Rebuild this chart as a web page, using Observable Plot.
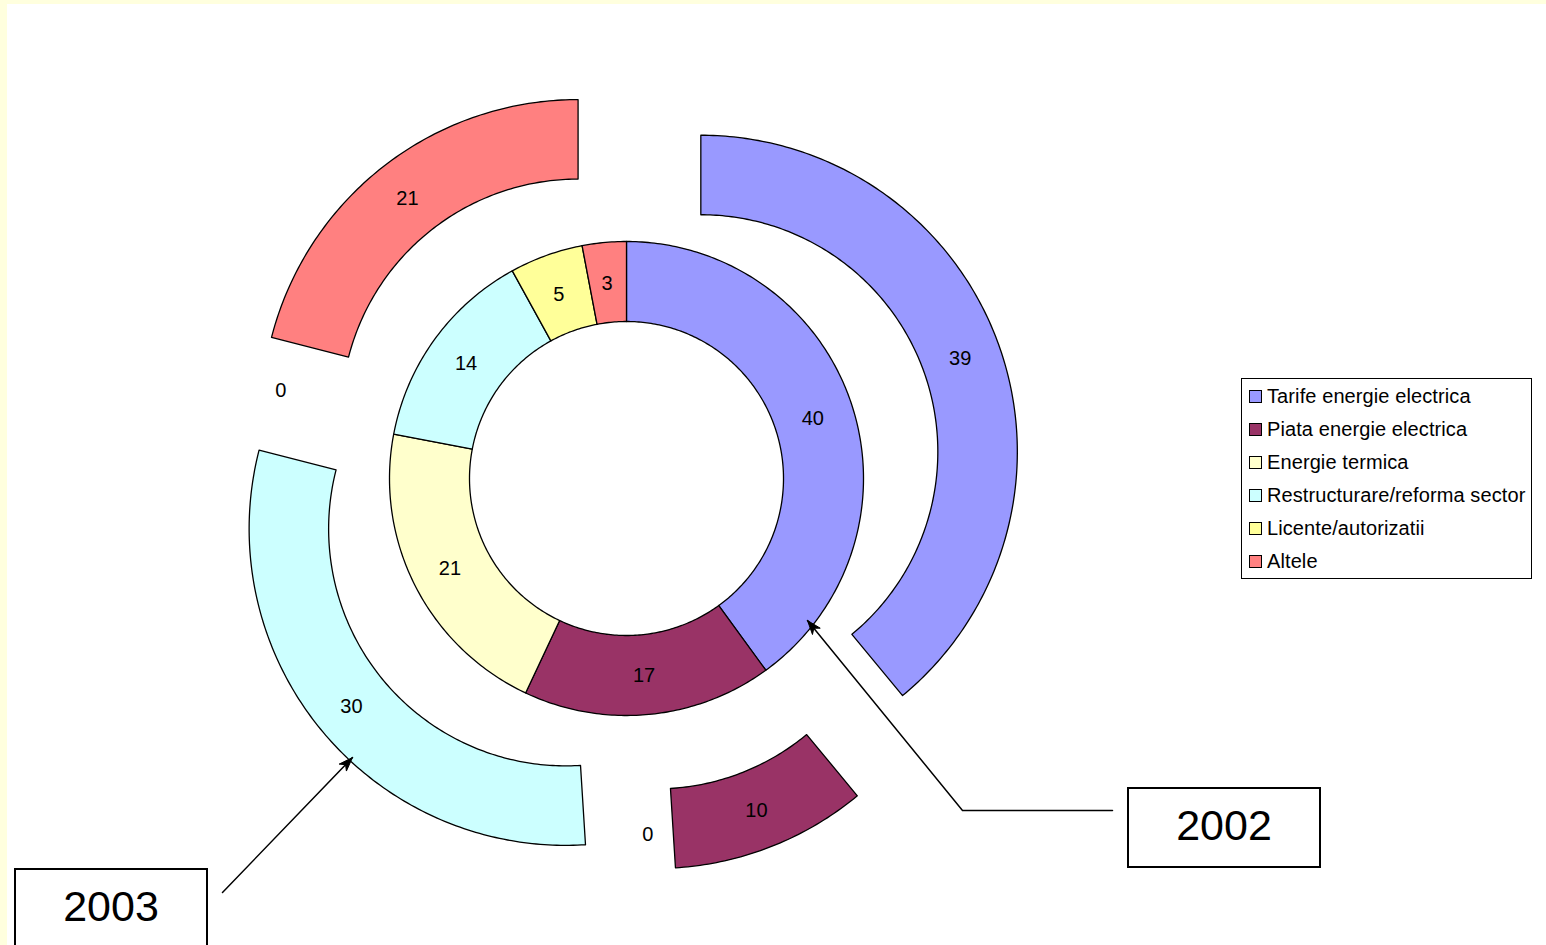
<!DOCTYPE html>
<html><head><meta charset="utf-8">
<script src="https://cdn.jsdelivr.net/npm/d3@7"></script>
<script src="https://cdn.jsdelivr.net/npm/@observablehq/plot@0.6"></script>
<style>
html,body{margin:0;padding:0;overflow:hidden;background:#FFFFDE;width:1546px;height:945px;}
#page{position:absolute;left:7px;top:4px;width:1539px;height:941px;background:#fff;}
#chart{position:absolute;left:0;top:0;width:1546px;height:945px;}
.legend{position:absolute;left:1241px;top:378px;width:291px;height:201px;box-sizing:border-box;border:1.5px solid #000;background:#fff;font-family:"Liberation Sans",Arial,sans-serif;font-size:20px;letter-spacing:0.1px;color:#000;}
.row{position:absolute;left:7px;height:24px;display:flex;align-items:center;white-space:nowrap;}
.sw{width:11px;height:11px;border:1px solid #000;margin-right:5px;}
.ybox{position:absolute;width:194px;height:81px;box-sizing:border-box;border:2px solid #000;background:#fff;font-family:"Liberation Sans",Arial,sans-serif;font-size:43px;display:flex;align-items:center;justify-content:center;padding-bottom:4px;color:#000;}
</style></head>
<body>
<div id="page"></div>
<div id="chart"></div>
<script>
// ---- data ----
const categories = ["Tarife energie electrica","Piata energie electrica","Energie termica","Restructurare/reforma sector","Licente/autorizatii","Altele"];
const values2002 = [40, 17, 21, 14, 5, 3];
const values2003 = [39, 10, 0, 30, 0, 21];
const colors = ["#9999FF","#993366","#FFFFCC","#CCFFFF","#FFFF99","#FF8080"];
const years = ["2002","2003"];

// ---- layout ----
const W = 1546, H = 945;
const cx = 626, cy = 478;
const hole = 157, ring = 80;
const explode = 79;

function pt(ox, oy, r, deg) {
  const a = deg * Math.PI / 180;
  return {x: ox + r * Math.sin(a), y: oy - r * Math.cos(a)};
}
function arcPoly(ox, oy, r0, r1, a0, a1) {
  const n = Math.max(2, Math.ceil((a1 - a0) / 0.75));
  const pts = [];
  for (let i = 0; i <= n; i++) pts.push(pt(ox, oy, r1, a0 + (a1 - a0) * i / n));
  for (let i = n; i >= 0; i--) pts.push(pt(ox, oy, r0, a0 + (a1 - a0) * i / n));
  pts.push(pts[0]);
  return pts;
}
function ringSlices(values, r0, r1, exp) {
  const total = d3.sum(values);
  let acc = 0;
  return values.map((v, i) => {
    const a0 = acc / total * 360; acc += v;
    const a1 = acc / total * 360;
    const mid = (a0 + a1) / 2;
    const off = pt(cx, cy, exp, mid);
    const lab = pt(off.x, off.y, (r0 + r1) / 2, mid);
    return {i, v, a0, a1, color: colors[i], poly: v > 0 ? arcPoly(off.x, off.y, r0, r1, a0, a1) : null, lx: lab.x, ly: lab.y};
  });
}
const inner = ringSlices(values2002, hole, hole + ring, 0);
const outer = ringSlices(values2003, hole + ring, hole + 2 * ring - 0.5, explode);
const slices = [...inner, ...outer];

// annotation arrows (2002, 2003)
const arrowPaths = [
  [[1112, 810], [962, 810], [807, 620]],
  [[222, 892], [352, 757]]
];
function head(path) {
  const [x0, y0] = path[path.length - 2], [x1, y1] = path[path.length - 1];
  const L = Math.hypot(x1 - x0, y1 - y0), ux = (x1 - x0) / L, uy = (y1 - y0) / L;
  const len = 14, hw = 5;
  const bx = x1 - ux * len, by = y1 - uy * len;
  const nx = x1 - ux * (len - 4), ny = y1 - uy * (len - 4);
  return [{x: x1, y: y1}, {x: bx - uy * hw, y: by + ux * hw}, {x: nx, y: ny}, {x: bx + uy * hw, y: by - ux * hw}, {x: x1, y: y1}];
}

const marks = [];
for (const s of slices) {
  if (s.poly) marks.push(Plot.line(s.poly, {x: "x", y: "y", fill: s.color, stroke: "#000", strokeWidth: 1.3, strokeLinejoin: "round", curve: "linear"}));
}
marks.push(Plot.text(slices, {x: "lx", y: "ly", text: d => String(d.v), fontSize: 20, fill: "#000", textAnchor: "middle", dx: -1, dy: 1}));
for (const p of arrowPaths) {
  marks.push(Plot.line(p.map(([x, y]) => ({x, y})), {x: "x", y: "y", stroke: "#000", strokeWidth: 1.5}));
  marks.push(Plot.line(head(p), {x: "x", y: "y", fill: "#000", stroke: "#000", strokeWidth: 1}));
}

const chart = Plot.plot({
  width: W, height: H,
  margin: 0,
  x: {domain: [0, W], range: [0, W], axis: null},
  y: {domain: [0, H], range: [0, H], axis: null},
  style: {background: "transparent", fontFamily: "'Liberation Sans', Arial, sans-serif", overflow: "visible", maxWidth: "none"},
  marks
});
document.getElementById("chart").appendChild(chart);

// legend
const leg = document.createElement("div");
leg.className = "legend";
categories.forEach((c, i) => {
  const r = document.createElement("div");
  r.className = "row";
  r.style.top = (5 + 33 * i) + "px";
  r.innerHTML = `<div class="sw" style="background:${colors[i]}"></div><span>${c}</span>`;
  leg.appendChild(r);
});
document.body.appendChild(leg);

// year boxes
const boxes = [{t: years[0], left: 1127, top: 787}, {t: years[1], left: 14, top: 868}];
for (const b of boxes) {
  const d = document.createElement("div");
  d.className = "ybox";
  d.style.left = b.left + "px"; d.style.top = b.top + "px";
  d.textContent = b.t;
  document.body.appendChild(d);
}
</script>
</body></html>
